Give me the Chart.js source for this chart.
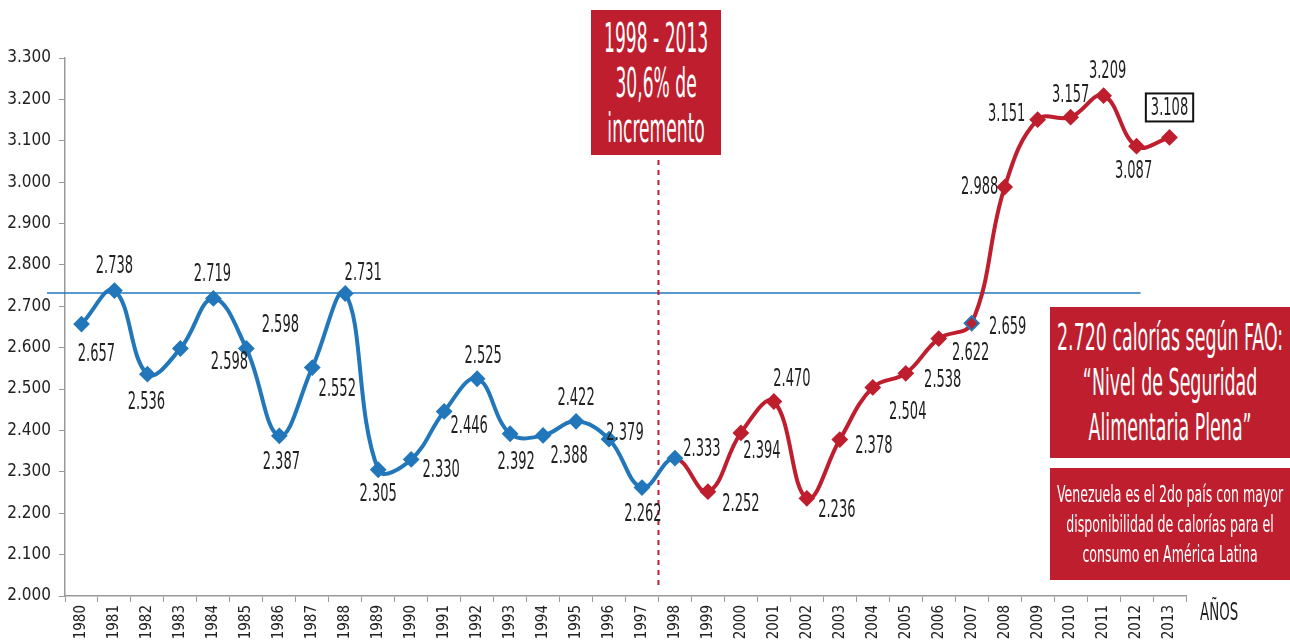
<!DOCTYPE html>
<html lang="es">
<head>
    <meta charset="UTF-8">
    <title>Disponibilidad de calorías 1980 - 2013</title>
    <script src="https://cdn.jsdelivr.net/npm/chart.js"></script>
    <style>
        body { margin: 0; background: #fff; }
        .wrap { position: relative; width: 1290px; height: 640px; overflow: hidden; }
        .box {
            position: absolute;
            background: #be1e2d;
            color: #fff;
            font-family: 'DejaVu Sans Condensed', 'Liberation Sans Narrow', sans-serif;
            overflow: hidden;
        }
        .box .inner {
            display: inline-block; white-space: nowrap;
            transform-origin: 0 0; text-align: center;
        }
        .years {
            position: absolute; left: 1200px; top: 598px;
            font: 24px 'DejaVu Sans Condensed', sans-serif;
            color: #222; transform: scaleX(0.62); transform-origin: 0 0;
        }
    </style>
</head>
<body>
<div class="wrap">
    <canvas id="calChart"></canvas>

    <!-- Caja superior -->
    <div class="box" style="left:591px; top:10px; width:130px; height:145px;" data-fit="104">
        <div class="inner" style="font-size:41px; line-height:45px; padding-top:6px;">
            1998 - 2013<br>30,6% de<br>incremento
        </div>
    </div>

    <!-- Cajas de la derecha -->
    <div class="box" style="left:1050px; top:307px; width:240px; height:151px;" data-fit="226">
        <div class="inner" style="font-size:38px; line-height:45px; padding-top:8px;">
            2.720 calorías según FAO:<br>“Nivel de Seguridad<br>Alimentaria Plena”
        </div>
    </div>
    <div class="box" style="left:1050px; top:468px; width:240px; height:112px;" data-fit="226">
        <div class="inner" style="font-size:23px; line-height:30px; padding-top:11px;">
            Venezuela es el 2do país con mayor<br>disponibilidad de calorías para el<br>consumo en América Latina
        </div>
    </div>

    <div class="years">AÑOS</div>
</div>

<script>
    // Datos
    const years = ['1980', '1981', '1982', '1983', '1984', '1985', '1986', '1987', '1988', '1989',
                   '1990', '1991', '1992', '1993', '1994', '1995', '1996', '1997', '1998', '1999',
                   '2000', '2001', '2002', '2003', '2004', '2005', '2006', '2007', '2008', '2009',
                   '2010', '2011', '2012', '2013'];
    const calories = [2657, 2738, 2536, 2598, 2719, 2598, 2387, 2552, 2731, 2305,
                      2330, 2446, 2525, 2392, 2388, 2422, 2379, 2262, 2333, 2252,
                      2394, 2470, 2236, 2378, 2504, 2538, 2622, 2659, 2988, 3151,
                      3157, 3209, 3087, 3108];
    const yTicks = [2000, 3300, 100]; // min, max, paso
    const faoLevel = 2732;
    const splitIndex = 18; // 1998: a partir de aqui la linea es roja

    // Posicion de cada etiqueta respecto a su punto (px)
    const labelDx = [15, 0, -1, 49, -1, 34, 2, 25, 18, 0, 30, 25, 6, 6, 26, 0, 16, 1, 27, 33,
                     21, 18, 30, 34, 35, 37, 32, 36, -25, -31, 0, 4, -3, 0];
    const labelDy = [29, -25, 27, 13, -25, -24, 26, 21, -21, 24, 10, 14, -23, 28, 20, -24, -7, 26, -10, 12,
                     18, -23, 11, 6, 24, 6, 14, 3, -1, -6, -23, -25, 24, -30];

    const BLUE = '#2277bb';
    const RED = '#be1e2d';
    const FONT = "'DejaVu Sans Condensed', 'Liberation Sans Narrow', sans-serif";

    // ajustar el texto de las cajas a su ancho
    document.querySelectorAll('.box').forEach(box => {
        const inner = box.querySelector('.inner');
        const w = inner.offsetWidth;
        const target = +box.dataset.fit;
        const k = Math.min(1, target / w);
        const left = (box.clientWidth - w * k) / 2;
        inner.style.transform = 'translateX(' + left + 'px) scaleX(' + k + ')';
    });

    function fmt(v) {
        return (v / 1000).toFixed(3);
    }

    const pointColors = calories.map((v, i) => i <= splitIndex ? BLUE : RED);
    const pointBorders = calories.map((v, i) => i === 27 ? BLUE : pointColors[i]);

    // Lineas de referencia
    const refLines = {
        id: 'refLines',
        beforeDatasetsDraw(chart) {
            const { ctx, chartArea, scales: { x, y } } = chart;
            ctx.save();
            // linea FAO
            const yy = y.getPixelForValue(faoLevel);
            ctx.strokeStyle = BLUE;
            ctx.lineWidth = 1.5;
            ctx.beginPath();
            ctx.moveTo(chartArea.left - 18, yy);
            ctx.lineTo(x.getPixelForValue(32) + 4, yy);
            ctx.stroke();
            // linea punteada 1998
            const xx = (x.getPixelForValue(17) + x.getPixelForValue(18)) / 2;
            ctx.strokeStyle = RED;
            ctx.lineWidth = 2;
            ctx.setLineDash([5, 5]);
            ctx.beginPath();
            ctx.moveTo(xx, 160);
            ctx.lineTo(xx, chartArea.bottom - 6);
            ctx.stroke();
            ctx.restore();
        }
    };

    // Etiquetas de valores
    const valueLabels = {
        id: 'valueLabels',
        afterDatasetsDraw(chart) {
            const { ctx } = chart;
            const meta = chart.getDatasetMeta(0);
            ctx.save();
            ctx.font = '25px ' + FONT;
            ctx.fillStyle = '#222';
            ctx.textAlign = 'center';
            ctx.textBaseline = 'middle';
            meta.data.forEach((pt, i) => {
                const lx = pt.x + labelDx[i];
                const ly = pt.y + labelDy[i];
                const txt = fmt(calories[i]);
                ctx.save();
                ctx.translate(lx, ly);
                ctx.scale(0.58, 1);
                ctx.fillText(txt, 0, 1);
                ctx.restore();
                if (i === calories.length - 1) {
                    const w = ctx.measureText(txt).width * 0.58 + 10;
                    ctx.strokeStyle = '#111';
                    ctx.lineWidth = 2;
                    ctx.strokeRect(lx - w / 2, ly - 14, w, 28);
                }
            });
            ctx.restore();
        }
    };

    new Chart(document.getElementById('calChart'), {
        type: 'line',
        data: {
            labels: years,
            datasets: [{
                data: calories,
                borderWidth: 4,
                tension: 0.4,
                borderColor: BLUE,
                segment: {
                    borderColor: c => c.p0DataIndex < splitIndex ? BLUE : RED
                },
                pointStyle: 'rectRot',
                pointRadius: 7,
                pointBorderWidth: 2,
                pointBackgroundColor: pointColors,
                pointBorderColor: pointBorders
            }]
        },
        options: {
            responsive: true,
            maintainAspectRatio: false,
            animation: false,
            layout: { padding: { top: 58, right: 104, left: 0, bottom: 0 } },
            plugins: {
                legend: { display: false },
                tooltip: { enabled: false }
            },
            scales: {
                x: {
                    offset: true,
                    afterFit: s => { s.height = 44; },
                    grid: { drawOnChartArea: false, offset: true, tickLength: 6, color: '#999' },
                    border: { color: '#999', width: 1.5 },
                    ticks: {
                        maxRotation: 90, minRotation: 90, autoSkip: false, padding: 3,
                        color: '#222', font: { family: FONT, size: 15 }
                    }
                },
                y: {
                    min: yTicks[0], max: yTicks[1],
                    afterFit: s => { s.width = 65; },
                    grid: { drawOnChartArea: false, tickLength: 6, color: '#999' },
                    border: { color: '#999', width: 1.5 },
                    ticks: {
                        stepSize: yTicks[2], padding: 8, color: '#222',
                        font: { family: FONT, size: 17 },
                        callback: v => fmt(v)
                    }
                }
            }
        },
        plugins: [refLines, valueLabels]
    });
</script>
</body>
</html>
